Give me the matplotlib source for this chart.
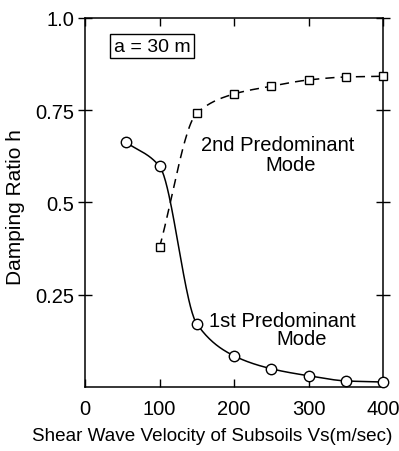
import numpy as np
import matplotlib
matplotlib.use("Agg")
import matplotlib.pyplot as plt

vs = [55, 100, 150, 200, 250, 300, 350, 400]
h_first = [0.663, 0.598, 0.171, 0.084, 0.049, 0.030, 0.016, 0.013]
vs2 = [100, 150, 200, 250, 300, 350, 400]
h_second = [0.378, 0.742, 0.794, 0.815, 0.832, 0.840, 0.842]
xticks = [0, 100, 200, 300, 400]
yticks = [0.25, 0.5, 0.75, 1.0]
yticklabels = ["0.25", "0.5", "0.75", "1.0"]


def pchip(x, y, xn):
    x = np.asarray(x, float); y = np.asarray(y, float)
    h = np.diff(x); d = np.diff(y) / h
    n = len(x); m = np.zeros(n)
    for k in range(1, n - 1):
        if d[k - 1] * d[k] > 0:
            w1 = 2 * h[k] + h[k - 1]; w2 = h[k] + 2 * h[k - 1]
            m[k] = (w1 + w2) / (w1 / d[k - 1] + w2 / d[k])
    m[0] = d[0]; m[-1] = d[-1]
    out = np.empty_like(xn)
    for i, xv in enumerate(xn):
        k = min(np.searchsorted(x, xv, side="right") - 1, n - 2)
        k = max(k, 0)
        t = (xv - x[k]) / h[k]
        h00 = 2*t**3 - 3*t**2 + 1; h10 = t**3 - 2*t**2 + t
        h01 = -2*t**3 + 3*t**2; h11 = t**3 - t**2
        out[i] = h00*y[k] + h10*h[k]*m[k] + h01*y[k+1] + h11*h[k]*m[k+1]
    return out

plt.rcParams['font.family'] = ['Liberation Sans', 'DejaVu Sans']
fig = plt.figure(figsize=(3.99, 4.52), dpi=100)
ax = fig.add_axes([0.213, 0.142, 0.747, 0.816])

xs = np.linspace(vs[0], vs[-1], 300)
ax.plot(xs, pchip(vs, h_first, xs), color='black', lw=1.1)
ax.plot(vs, h_first, 'o', ms=7.5, mfc='white', mec='black', mew=1.0, clip_on=False, zorder=3)
xs2 = np.linspace(vs2[0], vs2[-1], 300)
ax.plot(xs2, pchip(vs2, h_second, xs2), color='black', lw=1.1, dashes=(6, 4))
ax.plot(vs2, h_second, 's', ms=6, mfc='white', mec='black', mew=1.0, clip_on=False, zorder=3)

ax.set_xlim(0, 400)
ax.set_ylim(0, 1.0)
ax.set_xticks(xticks)
ax.set_yticks(yticks)
ax.set_yticklabels(yticklabels)
ax.tick_params(direction='in', length=6, width=1, labelsize=14.5, top=True, right=True, pad=9)
ax.tick_params(axis='y', direction='inout', length=10, pad=3)
for s in ax.spines.values():
    s.set_linewidth(1.1)

fig.text(212 / 399, 1 - 437 / 452, "Shear Wave Velocity of Subsoils Vs(m/sec)",
         fontsize=13.6, ha='center', va='center')
fig.text(16 / 399, 1 - 207 / 452, "Damping Ratio h", fontsize=15,
         rotation=90, ha='center', va='center')

ax.text(90, 0.924, "a = 30 m", fontsize=14, ha='center', va='center',
        bbox=dict(boxstyle='square,pad=0.2', fc='white', ec='black', lw=1))
ax.text(258, 0.658, "2nd Predominant", fontsize=14.5, ha='center', va='center')
ax.text(276, 0.603, "Mode", fontsize=14.5, ha='center', va='center')
ax.text(265, 0.179, "1st Predominant", fontsize=14.5, ha='center', va='center')
ax.text(291, 0.130, "Mode", fontsize=14.5, ha='center', va='center')

fig.savefig("out.png", dpi=100)
